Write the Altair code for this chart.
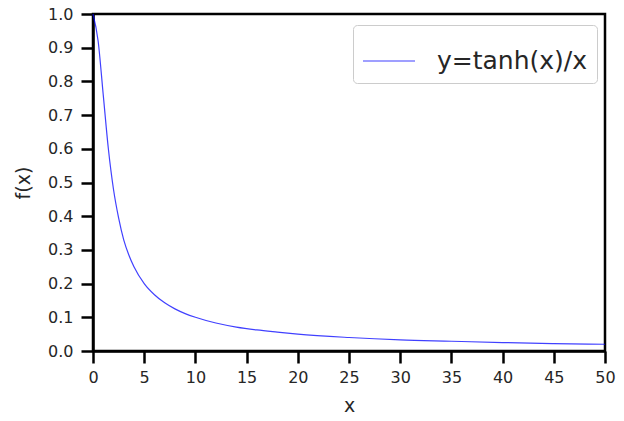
import altair as alt
import pandas as pd

# values
x_vals = [0, 0.5, 1, 1.5, 2, 2.5, 3, 3.5, 4, 5, 6, 7, 8, 9, 10, 12, 14, 16, 18, 20, 25, 30, 35, 40, 45, 50]
y_vals = [1.0, 0.92, 0.76, 0.60, 0.48, 0.395, 0.33, 0.285, 0.25, 0.20, 0.167, 0.143, 0.125, 0.111, 0.10,
          0.083, 0.071, 0.0625, 0.056, 0.05, 0.04, 0.033, 0.029, 0.025, 0.022, 0.02]
series_name = "y=tanh(x)/x"

df = pd.DataFrame({"x": x_vals, "y": y_vals, "s": [series_name] * len(x_vals)})

font = "DejaVu Sans"

chart = alt.Chart(df).mark_line(strokeWidth=1.2, opacity=0.75, interpolate="monotone").encode(
    x=alt.X("x:Q", scale=alt.Scale(domain=[0, 50], nice=False),
            axis=alt.Axis(title="x", values=list(range(0, 51, 5)), format="d", labelPadding=6, titlePadding=11)),
    y=alt.Y("y:Q", scale=alt.Scale(domain=[0, 1], nice=False),
            axis=alt.Axis(title="f(x)", values=[i / 10 for i in range(11)], format=".1f", labelPadding=8, titlePadding=14)),
    color=alt.Color("s:N", scale=alt.Scale(range=["#0000ff"]),
                    legend=alt.Legend(title=None, orient="none", legendX=260, legendY=11,
                                      symbolType="stroke", symbolSize=2704, symbolStrokeWidth=1.2,
                                      labelFontSize=25, labelFont=font, labelColor="#262626",
                                      labelOffset=21, strokeColor="#cccccc", fillColor="white",
                                      cornerRadius=4, padding=9)),
).properties(
    width=512, height=337,
    autosize=alt.AutoSizeParams(type="none"),
    padding={"left": 85, "top": 6, "right": 11, "bottom": 62},
).configure_view(
    stroke="black", strokeWidth=2.5,
).configure_axis(
    grid=False, domainColor="black", domainWidth=2.5, tickColor="black", tickWidth=2.5,
    tickSize=12, labelFont=font, labelFontSize=16, labelColor="#262626",
    titleFont=font, titleFontSize=19, titleFontWeight="normal", titleColor="#262626",
    labelFlush=False,
)

chart.save("out.html", embed_options={"renderer": "svg", "actions": False})
